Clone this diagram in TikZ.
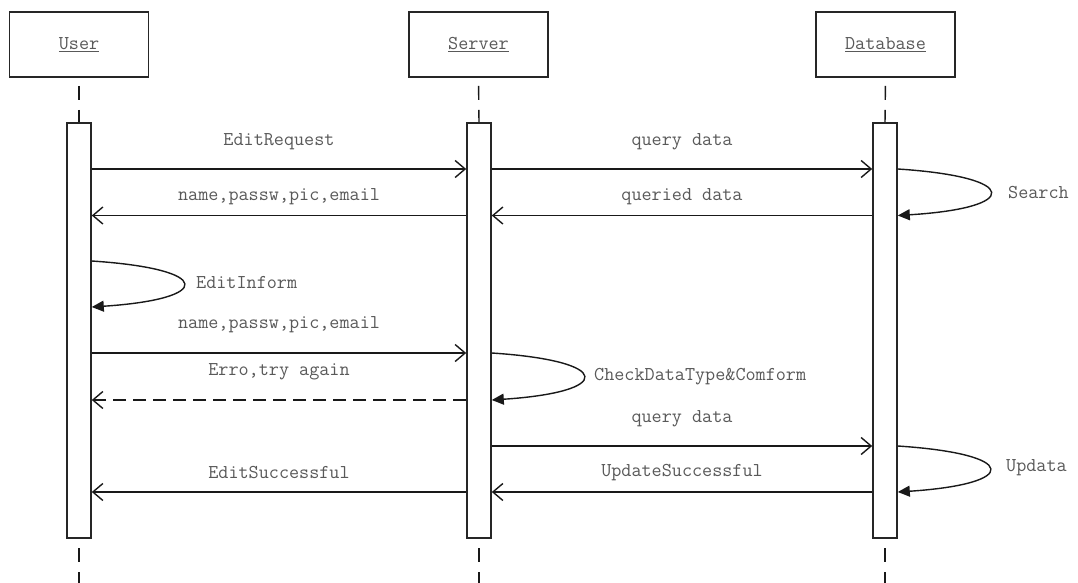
\documentclass[tikz,border=0pt]{standalone}
\usepackage{fontspec}
\usetikzlibrary{arrows.meta,calc}
\newcommand{\lblsize}{\ttfamily\fontsize{19.6}{24}\selectfont}
\begin{document}
\begin{tikzpicture}[x=1pt,y=-1pt,
  ln/.style={draw=black!90,line width=1.4pt},
  hbox/.style={draw=black!85,line width=1.8pt,rectangle,minimum width=139pt,minimum height=65pt,inner sep=0pt,text=black!65,font=\lblsize},
  actbar/.style={draw=black!85,line width=1.6pt,rectangle,fill=white,minimum width=24pt,minimum height=415pt,inner sep=0pt},
  lifetop/.style={ln,dash pattern=on 14pt off 10pt,dash phase=16pt},
  lifebot/.style={ln,dash pattern=on 14pt off 10pt,dash phase=14pt},
  msg/.style={ln,-{Straight Barb[length=10pt,width=17pt]}},
  retdash/.style={msg,dash pattern=on 13pt off 7pt},
  selfloop/.style={ln,-{Triangle[length=12pt,width=11pt]}},
  lbl/.style={text=black!65,inner sep=0pt,font=\lblsize}]
\useasboundingbox (0,0) rectangle (1078,583);
\fill[white] (0,0) rectangle (1078,583);

% heads
\node[hbox] (user) at (79,44.5) {\underline{User}};
\node[hbox] (server) at (478.5,44.5) {\underline{Server}};
\node[hbox] (db) at (885.5,44.5) {\underline{Database}};

% end coordinates of lifelines
\coordinate (uend) at (79,583);
\coordinate (send) at (479,583);
\coordinate (dend) at (885,583);

% activation bars (positions)
\path (79,330.5) coordinate (ubc) (479,330.5) coordinate (sbc) (885,330.5) coordinate (dbc);

% lifelines
\draw[lifetop] (user.south) -- (ubc |- 0,123);
\draw[lifetop] (server.south) -- (sbc |- 0,123);
\draw[lifetop] (db.south) -- (dbc |- 0,123);
\draw[lifebot] (ubc |- 0,538) -- (uend);
\draw[lifebot] (sbc |- 0,538) -- (send);
\draw[lifebot] (dbc |- 0,538) -- (dend);

\node[actbar] (ubar) at (ubc) {};
\node[actbar] (sbar) at (sbc) {};
\node[actbar] (dbar) at (dbc) {};

% messages
\draw[msg] (ubar.east |- 0,169) -- node[lbl,yshift=27pt] (m1) {EditRequest} (sbar.west |- 0,169);
\draw[msg] (sbar.west |- 0,215.5) -- node[lbl,yshift=19pt] (m2) {name,passw,pic,email} (ubar.east |- 0,215.5);
\draw[msg] (sbar.east |- 0,169) -- node[lbl,yshift=27pt] (m3) {query data} (dbar.west |- 0,169);
\draw[msg] (dbar.west |- 0,215.5) -- node[lbl,yshift=19pt] (m4) {queried data} (sbar.east |- 0,215.5);
\draw[selfloop] (dbar.east |- 0,169) .. controls (1021,177) and (1021,208) .. (dbar.east |- 0,215.5);
\node[lbl,anchor=west] (search) at (1008,193) {Search};

\draw[selfloop] (ubar.east |- 0,261) .. controls (214,269) and (214,299) .. (ubar.east |- 0,307);
\node[lbl,anchor=west] (editinform) at (196,283) {EditInform};

\draw[msg] (ubar.east |- 0,353) -- node[lbl,yshift=28pt] (m7) {name,passw,pic,email} (sbar.west |- 0,353);
\draw[retdash] (sbar.west |- 0,400) -- node[lbl,yshift=28pt] (m8) {Erro,try again} (ubar.east |- 0,400);
\draw[selfloop] (sbar.east |- 0,353) .. controls (614,361) and (614,392) .. (sbar.east |- 0,400);
\node[lbl,anchor=west] (check) at (594,377) {CheckDataType\&Comform};

\draw[msg] (sbar.east |- 0,446) -- node[lbl,yshift=27pt] (m10) {query data} (dbar.west |- 0,446);
\draw[msg] (dbar.west |- 0,492) -- node[lbl,yshift=19pt] (m11) {UpdateSuccessful} (sbar.east |- 0,492);
\draw[msg] (sbar.west |- 0,492) -- node[lbl,yshift=19pt] (m12) {EditSuccessful} (ubar.east |- 0,492);
\draw[selfloop] (dbar.east |- 0,446) .. controls (1020,454) and (1020,484) .. (dbar.east |- 0,492);
\node[lbl,anchor=west] (updata) at (1006,468) {Updata};
\end{tikzpicture}
\end{document}
